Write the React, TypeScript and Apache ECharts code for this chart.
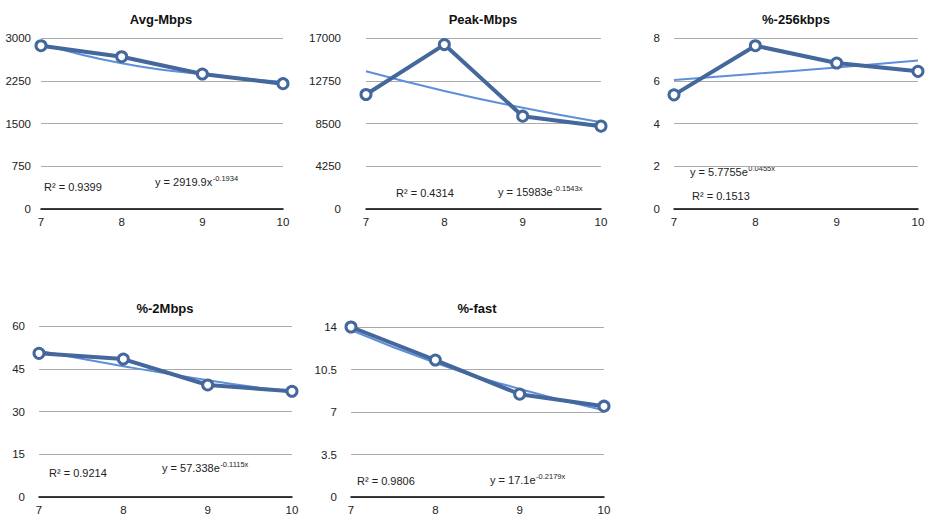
import React, { useEffect, useRef } from "react";
import * as echarts from "echarts";

const xValues = [7, 8, 9, 10];

const titles = ["Avg-Mbps", "Peak-Mbps", "%-256kbps", "%-2Mbps", "%-fast"];

const avgMbps = [2865, 2672, 2368, 2199];
const avgTrend = [2900, 2556, 2364, 2233];
const peakMbps = [11383, 16345, 9229, 8237];
const peakTrend = [13700, 11740, 10060, 8620];
const pct256 = [5.34, 7.64, 6.83, 6.44];
const pct256Trend = [6.04, 6.33, 6.62, 6.95];
const pct2M = [50.4, 48.4, 39.3, 37.1];
const pct2MTrend = [51.3, 45.9, 41.0, 36.7];
const pctFast = [14.0, 11.28, 8.47, 7.48];
const pctFastTrend = [13.75, 11.06, 8.9, 7.15];

const yMax = [3000, 17000, 8, 60, 14];
const yStep = [750, 4250, 2, 15, 3.5];

const r2Labels = ["R² = 0.9399", "R² = 0.4314", "R² = 0.1513", "R² = 0.9214", "R² = 0.9806"];
const eqLabels = ["y = 2919.9x", "y = 15983e", "y = 5.7755e", "y = 57.338e", "y = 17.1e"];
const eqExponents = ["-0.1934", "-0.1543x", "0.0455x", "-0.1115x", "-0.2179x"];

const seriesData = [avgMbps, peakMbps, pct256, pct2M, pctFast];
const trendData = [avgTrend, peakTrend, pct256Trend, pct2MTrend, pctFastTrend];

// layout (pixels)
const grids = [
  { left: 41, top: 38, width: 242, height: 171 },
  { left: 366, top: 38, width: 235, height: 171 },
  { left: 674, top: 38, width: 244, height: 171 },
  { left: 39, top: 326, width: 253, height: 171 },
  { left: 351, top: 327, width: 253, height: 170 },
];
const titlePos = [
  [161, 19],
  [483, 19],
  [796, 19],
  [165, 308],
  [477, 308],
];
const r2Pos = [
  [44, 187],
  [396, 193],
  [692, 196],
  [49, 473],
  [357, 481],
];
const eqPos = [
  [155, 182],
  [498, 192],
  [690, 172],
  [162, 468],
  [490, 480],
];

const FONT = "'Liberation Sans', Arial, Helvetica, sans-serif";
const DATA_COLOR = "#44679c";
const TREND_COLOR = "#5f8fd8";
const LABEL_SIZE = 11.5;

function measure(text: string, font: string): number {
  const c = document.createElement("canvas").getContext("2d");
  if (!c) return text.length * 6;
  c.font = font;
  return c.measureText(text).width;
}

export default function App() {
  const ref = useRef<HTMLDivElement>(null);

  useEffect(() => {
    if (!ref.current) return;
    const chart = echarts.init(ref.current, undefined, { renderer: "svg" });

    const xAxis = grids.map((_, i) => ({
      type: "value",
      gridIndex: i,
      min: 7,
      max: 10,
      interval: 1,
      axisLine: { show: true, lineStyle: { color: "#000", width: 1.5 } },
      axisTick: { show: false },
      splitLine: { show: false },
      axisLabel: { color: "#222", fontSize: LABEL_SIZE, fontFamily: FONT, margin: 7 },
    }));
    const yAxis = grids.map((_, i) => ({
      type: "value",
      gridIndex: i,
      min: 0,
      max: yMax[i],
      interval: yStep[i],
      axisLine: { show: false },
      axisTick: { show: false },
      splitLine: { show: true, lineStyle: { color: "#aaaaaa", width: 1 } },
      axisLabel: {
        color: "#222",
        fontSize: LABEL_SIZE,
        fontFamily: FONT,
        margin: i === 1 ? 25 : i === 0 ? 10 : 14,
        formatter: (v: number) => String(v),
      },
    }));

    const series: any[] = [];
    grids.forEach((_, i) => {
      series.push({
        type: "line",
        xAxisIndex: i,
        yAxisIndex: i,
        data: xValues.map((x, k) => [x, trendData[i][k]]),
        smooth: 0.5,
        showSymbol: false,
        lineStyle: { color: TREND_COLOR, width: 2 },
        z: 2,
      });
      series.push({
        type: "line",
        xAxisIndex: i,
        yAxisIndex: i,
        data: xValues.map((x, k) => [x, seriesData[i][k]]),
        symbol: "circle",
        symbolSize: 10,
        lineStyle: { color: DATA_COLOR, width: 4 },
        itemStyle: { color: "#ffffff", borderColor: DATA_COLOR, borderWidth: 3 },
        z: 3,
      });
    });

    const eqFont = `11px ${FONT}`;
    const graphic: any[] = [];
    grids.forEach((_, i) => {
      graphic.push({
        type: "text",
        x: titlePos[i][0],
        y: titlePos[i][1],
        style: {
          text: titles[i],
          font: `bold 13px ${FONT}`,
          fill: "#111",
          textAlign: "center",
          textVerticalAlign: "middle",
        },
      });
      graphic.push({
        type: "text",
        x: r2Pos[i][0],
        y: r2Pos[i][1],
        style: {
          text: r2Labels[i],
          font: eqFont,
          fill: "#222",
          textAlign: "left",
          textVerticalAlign: "middle",
        },
      });
      graphic.push({
        type: "text",
        x: eqPos[i][0],
        y: eqPos[i][1],
        style: {
          text: eqLabels[i],
          font: eqFont,
          fill: "#222",
          textAlign: "left",
          textVerticalAlign: "middle",
        },
      });
      graphic.push({
        type: "text",
        x: eqPos[i][0] + measure(eqLabels[i], eqFont) + 0.5,
        y: eqPos[i][1] - 4,
        style: {
          text: eqExponents[i],
          font: `7.5px ${FONT}`,
          fill: "#222",
          textAlign: "left",
          textVerticalAlign: "middle",
        },
      });
    });

    chart.setOption({
      animation: false,
      backgroundColor: "#ffffff",
      grid: grids.map((g) => ({ ...g, containLabel: false })),
      xAxis,
      yAxis,
      series,
      graphic,
    });

    return () => chart.dispose();
  }, []);

  return (
    <div
      ref={ref}
      style={{ position: "fixed", left: 0, top: 0, width: 935, height: 531 }}
    />
  );
}
